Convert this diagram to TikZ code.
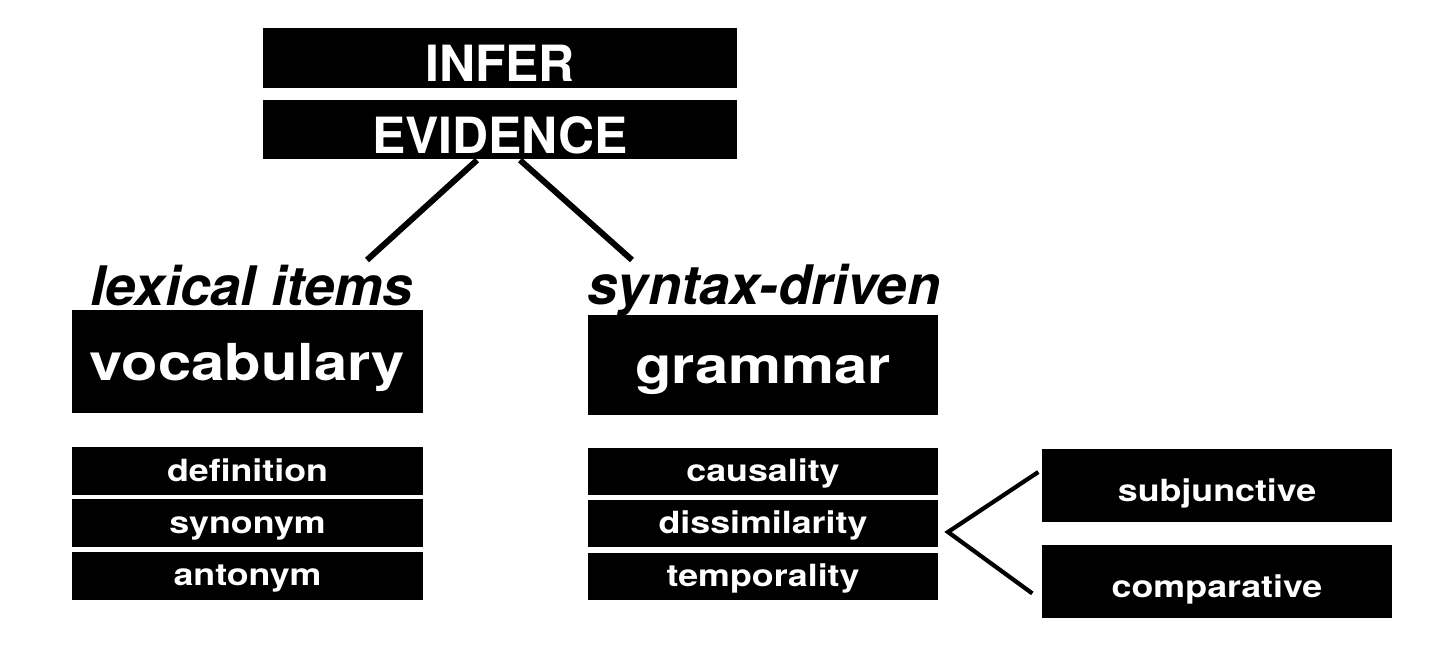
\documentclass[tikz,border=0pt]{standalone}
\usepackage{fontspec}
\setmainfont{TeX Gyre Heros}
\newfontfamily\wideheros{TeX Gyre Heros}[FakeStretch=1.17]
\usetikzlibrary{positioning}

\begin{document}
\begin{tikzpicture}[
    headbox/.style={fill=black, text=white, inner sep=0pt, minimum width=4.74cm, minimum height=0.6cm, text height=0.47cm, text depth=0pt, font=\fontsize{14.2}{16}\selectfont\bfseries},
    bigbox/.style={fill=black, text=white, inner sep=0pt, minimum width=3.5cm, minimum height=1cm, text height=0.36cm, text depth=0pt, font=\wideheros\fontsize{14.5}{17}\selectfont\bfseries},
    itembox/.style={fill=black, text=white, inner sep=0pt, minimum width=3.5cm, minimum height=0.48cm, text height=0.2cm, text depth=0pt, font=\wideheros\fontsize{8.7}{10}\selectfont\bfseries},
    caption/.style={anchor=base, inner sep=0pt, font=\fontsize{15.5}{18}\selectfont\bfseries\itshape},
    link/.style={line width=1.7pt},
    fork/.style={line width=1.2pt}
]
\useasboundingbox (0,0) rectangle (14.38,6.54);

% Top
\node[headbox] (infer) at (5.00, 5.96) {INFER};
\node[headbox, minimum height=0.59cm, below=0.11cm of infer] (evidence) {EVIDENCE};

% Branch captions
\node[caption] (lexical) at (2.52, 3.49) {lexical items};
\node[caption] (syntax) at (7.64, 3.50) {syntax-driven};

% Main boxes
\node[bigbox, minimum width=3.51cm, minimum height=1.03cm, text height=0.37cm] (vocab) at (2.475, 2.925) {vocabulary};
\node[bigbox] (grammar) at (7.63, 2.89) {grammar};

% Vocabulary items
\node[itembox, minimum width=3.51cm] (definition) at (2.475, 1.83) {definition};
\node[itembox, minimum width=3.51cm, below=0.03cm of definition] (synonym) {synonym};
\node[itembox, minimum width=3.51cm, below=0.03cm of synonym] (antonym) {antonym};

% Grammar items
\node[itembox, minimum height=0.47cm] (causality) at (7.63, 1.825) {causality};
\node[itembox, minimum height=0.47cm, below=0.04cm of causality] (dissim) {dissimilarity};
\node[itembox, minimum height=0.47cm, below=0.04cm of dissim] (temporal) {temporality};

% Dissimilarity subtypes
\node[itembox, minimum height=0.73cm, text height=0.32cm] (subjunctive) at (12.17, 1.685) {subjunctive};
\node[itembox, minimum height=0.73cm, text height=0.32cm, below=0.22cm of subjunctive] (comparative) {comparative};

% Lines from evidence
\coordinate (lexend) at (3.67, 3.94);
\coordinate (synend) at (6.32, 3.94);
\draw[link] ([xshift=-0.23cm]evidence.south) -- (lexend);
\draw[link] ([xshift=0.20cm]evidence.south) -- (synend);

% Fork
\coordinate (forkpt) at (9.48, 1.22);
\draw[fork] ([xshift=-0.03cm, yshift=0.135cm]subjunctive.west) -- (forkpt) -- ([xshift=-0.09cm, yshift=-0.115cm]comparative.west);

\end{tikzpicture}
\end{document}
